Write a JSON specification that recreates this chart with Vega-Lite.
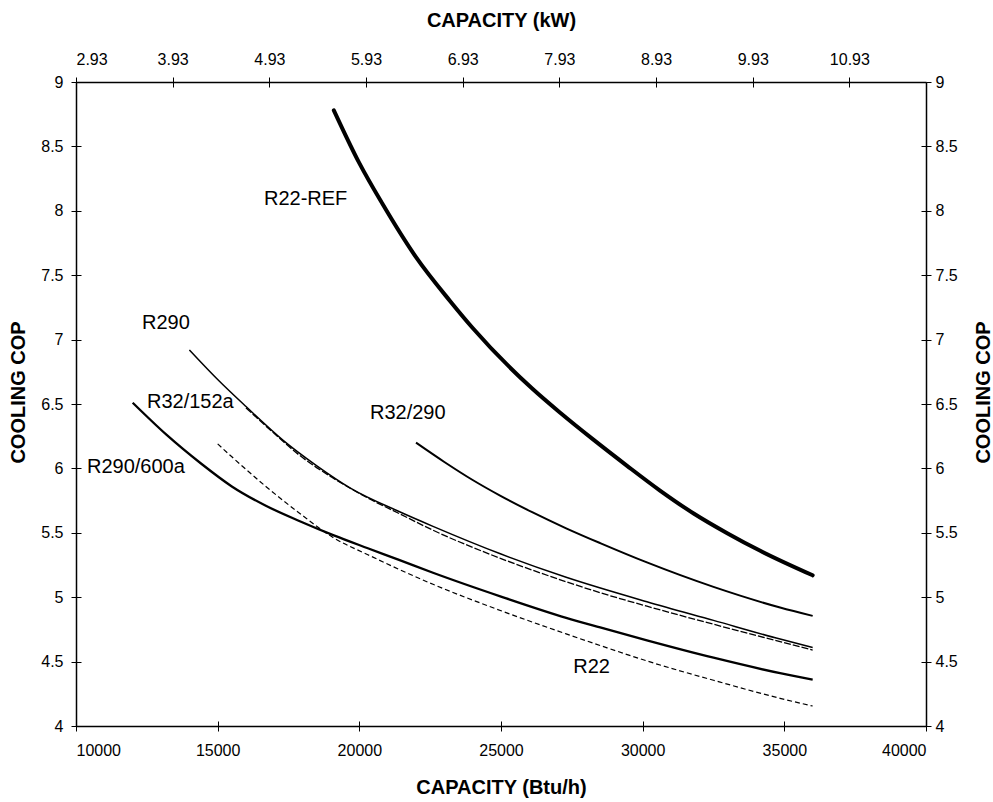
{
  "$schema": "https://vega.github.io/schema/vega-lite/v6.json",
  "width": 850,
  "height": 644,
  "autosize": {"type": "none"},
  "padding": {"left": 76, "top": 82, "right": 67, "bottom": 76},
  "background": "white",
  "config": {
    "view": {"stroke": null},
    "font": "Liberation Sans",
    "axis": {
      "domainColor": "black",
      "domainWidth": 1.5,
      "tickColor": "black",
      "tickWidth": 1,
      "tickSize": 5,
      "grid": false,
      "labelFont": "Liberation Sans",
      "labelFontSize": 16,
      "labelColor": "black",
      "titleFont": "Liberation Sans",
      "titleFontSize": 20,
      "titleFontWeight": "bold",
      "titleColor": "black"
    }
  },
  "datasets": {
    "curves": [
      {"series": "R22-REF", "btu": 19100, "cop": 8.78},
      {"series": "R22-REF", "btu": 20000, "cop": 8.37},
      {"series": "R22-REF", "btu": 20800, "cop": 8.06},
      {"series": "R22-REF", "btu": 22000, "cop": 7.64},
      {"series": "R22-REF", "btu": 23200, "cop": 7.30},
      {"series": "R22-REF", "btu": 24000, "cop": 7.09},
      {"series": "R22-REF", "btu": 26100, "cop": 6.62},
      {"series": "R22-REF", "btu": 27100, "cop": 6.43},
      {"series": "R22-REF", "btu": 28250, "cop": 6.225},
      {"series": "R22-REF", "btu": 29450, "cop": 6.02},
      {"series": "R22-REF", "btu": 30600, "cop": 5.83},
      {"series": "R22-REF", "btu": 31800, "cop": 5.65},
      {"series": "R22-REF", "btu": 33000, "cop": 5.495},
      {"series": "R22-REF", "btu": 34150, "cop": 5.36},
      {"series": "R22-REF", "btu": 36000, "cop": 5.17},

      {"series": "R32/290", "btu": 22000, "cop": 6.20},
      {"series": "R32/290", "btu": 23000, "cop": 6.05},
      {"series": "R32/290", "btu": 24000, "cop": 5.91},
      {"series": "R32/290", "btu": 25000, "cop": 5.785},
      {"series": "R32/290", "btu": 26100, "cop": 5.66},
      {"series": "R32/290", "btu": 27300, "cop": 5.535},
      {"series": "R32/290", "btu": 28500, "cop": 5.42},
      {"series": "R32/290", "btu": 30150, "cop": 5.27},
      {"series": "R32/290", "btu": 32500, "cop": 5.08},
      {"series": "R32/290", "btu": 34850, "cop": 4.92},
      {"series": "R32/290", "btu": 36000, "cop": 4.855},

      {"series": "R290", "btu": 14000, "cop": 6.92},
      {"series": "R290", "btu": 15000, "cop": 6.69},
      {"series": "R290", "btu": 16000, "cop": 6.48},
      {"series": "R290", "btu": 17300, "cop": 6.22},
      {"series": "R290", "btu": 18500, "cop": 6.02},
      {"series": "R290", "btu": 19700, "cop": 5.845},
      {"series": "R290", "btu": 21400, "cop": 5.665},
      {"series": "R290", "btu": 22600, "cop": 5.55},
      {"series": "R290", "btu": 25000, "cop": 5.335},
      {"series": "R290", "btu": 27300, "cop": 5.155},
      {"series": "R290", "btu": 30150, "cop": 4.965},
      {"series": "R290", "btu": 32500, "cop": 4.82},
      {"series": "R290", "btu": 34850, "cop": 4.675},
      {"series": "R290", "btu": 36000, "cop": 4.61},

      {"series": "R32/152a", "btu": 16000, "cop": 6.47},
      {"series": "R32/152a", "btu": 17000, "cop": 6.27},
      {"series": "R32/152a", "btu": 17900, "cop": 6.10},
      {"series": "R32/152a", "btu": 19000, "cop": 5.935},
      {"series": "R32/152a", "btu": 20300, "cop": 5.77},
      {"series": "R32/152a", "btu": 21400, "cop": 5.65},
      {"series": "R32/152a", "btu": 22600, "cop": 5.52},
      {"series": "R32/152a", "btu": 25000, "cop": 5.30},
      {"series": "R32/152a", "btu": 27300, "cop": 5.12},
      {"series": "R32/152a", "btu": 28500, "cop": 5.035},
      {"series": "R32/152a", "btu": 30150, "cop": 4.93},
      {"series": "R32/152a", "btu": 32500, "cop": 4.79},
      {"series": "R32/152a", "btu": 34850, "cop": 4.655},
      {"series": "R32/152a", "btu": 36000, "cop": 4.59},

      {"series": "R290/600a", "btu": 12000, "cop": 6.51},
      {"series": "R290/600a", "btu": 13200, "cop": 6.26},
      {"series": "R290/600a", "btu": 14400, "cop": 6.04},
      {"series": "R290/600a", "btu": 15500, "cop": 5.86},
      {"series": "R290/600a", "btu": 16700, "cop": 5.71},
      {"series": "R290/600a", "btu": 17900, "cop": 5.59},
      {"series": "R290/600a", "btu": 19100, "cop": 5.48},
      {"series": "R290/600a", "btu": 20300, "cop": 5.38},
      {"series": "R290/600a", "btu": 21400, "cop": 5.29},
      {"series": "R290/600a", "btu": 22600, "cop": 5.19},
      {"series": "R290/600a", "btu": 25000, "cop": 5.005},
      {"series": "R290/600a", "btu": 27300, "cop": 4.84},
      {"series": "R290/600a", "btu": 28500, "cop": 4.765},
      {"series": "R290/600a", "btu": 30150, "cop": 4.665},
      {"series": "R290/600a", "btu": 32500, "cop": 4.53},
      {"series": "R290/600a", "btu": 34850, "cop": 4.41},
      {"series": "R290/600a", "btu": 36000, "cop": 4.36},

      {"series": "R22", "btu": 15000, "cop": 6.19},
      {"series": "R22", "btu": 15500, "cop": 6.09},
      {"series": "R22", "btu": 16700, "cop": 5.86},
      {"series": "R22", "btu": 17900, "cop": 5.65},
      {"series": "R22", "btu": 19100, "cop": 5.46},
      {"series": "R22", "btu": 20300, "cop": 5.33},
      {"series": "R22", "btu": 22600, "cop": 5.10},
      {"series": "R22", "btu": 25000, "cop": 4.895},
      {"series": "R22", "btu": 27300, "cop": 4.715},
      {"series": "R22", "btu": 28500, "cop": 4.625},
      {"series": "R22", "btu": 30150, "cop": 4.505},
      {"series": "R22", "btu": 32500, "cop": 4.355},
      {"series": "R22", "btu": 34850, "cop": 4.215},
      {"series": "R22", "btu": 36000, "cop": 4.155}
    ],
    "labels": [
      {"label": "R22-REF", "btu": 16635, "cop": 8.09},
      {"label": "R290", "btu": 12330, "cop": 7.13},
      {"label": "R32/152a", "btu": 12506, "cop": 6.515},
      {"label": "R290/600a", "btu": 10388, "cop": 6.01},
      {"label": "R32/290", "btu": 20376, "cop": 6.43},
      {"label": "R22", "btu": 27550, "cop": 4.458}
    ]
  },
  "resolve": {"axis": {"x": "independent", "y": "independent"}},
  "layer": [
    {
      "data": {"name": "curves"},
      "transform": [{"filter": "datum.series === 'R22-REF'"}],
      "mark": {"type": "line", "color": "black", "strokeWidth": 4, "interpolate": "monotone", "strokeCap": "round"},
      "encoding": {
        "x": {"field": "btu", "type": "quantitative",
              "scale": {"domain": [10000, 40000], "nice": false, "zero": false},
              "axis": {"orient": "bottom", "values": [10000, 15000, 20000, 25000, 30000, 35000, 40000],
                       "format": "d", "labelPadding": 11, "title": "CAPACITY (Btu/h)",
                       "titleX": 425, "titleY": 61, "titleBaseline": "middle", "titleAnchor": "middle"}},
        "y": {"field": "cop", "type": "quantitative",
              "scale": {"domain": [4, 9], "nice": false, "zero": false},
              "axis": {"orient": "left", "values": [4, 4.5, 5, 5.5, 6, 6.5, 7, 7.5, 8, 8.5, 9],
                       "labelExpr": "datum.value + ''", "labelPadding": 8, "title": "COOLING COP",
                       "titleX": -58, "titleY": 310, "titleAngle": -90, "titleBaseline": "middle", "titleAlign": "center"}}
      }
    },
    {
      "data": {"name": "curves"},
      "transform": [{"filter": "datum.series === 'R32/290'"}],
      "mark": {"type": "line", "color": "black", "strokeWidth": 2, "interpolate": "monotone"},
      "encoding": {
        "x": {"field": "btu", "type": "quantitative",
              "axis": {"orient": "top", "values": [10000, 13412, 16824, 20236, 23648, 27060, 30472, 33884, 37296],
                       "labelExpr": "format((datum.value - 10000) / 3412 + 2.93, '.2f')", "labelPadding": 10,
                       "title": "CAPACITY (kW)", "titleX": 425, "titleY": -62, "titleBaseline": "middle", "titleAnchor": "middle"}},
        "y": {"field": "cop", "type": "quantitative",
              "axis": {"orient": "right", "values": [4, 4.5, 5, 5.5, 6, 6.5, 7, 7.5, 8, 8.5, 9],
                       "labelExpr": "datum.value + ''", "labelPadding": 4, "title": "COOLING COP",
                       "titleX": 57, "titleY": 310, "titleAngle": -90, "titleBaseline": "middle", "titleAlign": "center"}}
      }
    },
    {
      "data": {"name": "curves"},
      "transform": [{"filter": "datum.series === 'R290'"}],
      "mark": {"type": "line", "color": "black", "strokeWidth": 1.5, "interpolate": "monotone"},
      "encoding": {
        "x": {"field": "btu", "type": "quantitative",
              "axis": {"orient": "bottom", "values": [10000, 15000, 20000, 25000, 30000, 35000, 40000],
                       "labels": false, "domain": false, "tickSize": -5, "title": null}},
        "y": {"field": "cop", "type": "quantitative",
              "axis": {"orient": "left", "values": [4, 4.5, 5, 5.5, 6, 6.5, 7, 7.5, 8, 8.5, 9],
                       "labels": false, "domain": false, "tickSize": -5, "title": null}}
      }
    },
    {
      "data": {"name": "curves"},
      "transform": [{"filter": "datum.series === 'R32/152a'"}],
      "mark": {"type": "line", "color": "black", "strokeWidth": 1.3, "strokeDash": [7, 2], "interpolate": "monotone"},
      "encoding": {
        "x": {"field": "btu", "type": "quantitative",
              "axis": {"orient": "top", "values": [10000, 13412, 16824, 20236, 23648, 27060, 30472, 33884, 37296],
                       "labels": false, "domain": false, "tickSize": -5, "title": null}},
        "y": {"field": "cop", "type": "quantitative",
              "axis": {"orient": "right", "values": [4, 4.5, 5, 5.5, 6, 6.5, 7, 7.5, 8, 8.5, 9],
                       "labels": false, "domain": false, "tickSize": -5, "title": null}}
      }
    },
    {
      "data": {"name": "curves"},
      "transform": [{"filter": "datum.series === 'R290/600a'"}],
      "mark": {"type": "line", "color": "black", "strokeWidth": 2.3, "interpolate": "monotone"},
      "encoding": {
        "x": {"field": "btu", "type": "quantitative", "axis": null},
        "y": {"field": "cop", "type": "quantitative", "axis": null}
      }
    },
    {
      "data": {"name": "curves"},
      "transform": [{"filter": "datum.series === 'R22'"}],
      "mark": {"type": "line", "color": "black", "strokeWidth": 1.2, "strokeDash": [5, 3], "interpolate": "monotone"},
      "encoding": {
        "x": {"field": "btu", "type": "quantitative", "axis": null},
        "y": {"field": "cop", "type": "quantitative", "axis": null}
      }
    },
    {
      "data": {"name": "labels"},
      "mark": {"type": "text", "align": "left", "baseline": "middle", "font": "Liberation Sans", "fontSize": 20, "color": "black"},
      "encoding": {
        "x": {"field": "btu", "type": "quantitative", "axis": null},
        "y": {"field": "cop", "type": "quantitative", "axis": null},
        "text": {"field": "label", "type": "nominal"}
      }
    }
  ]
}
